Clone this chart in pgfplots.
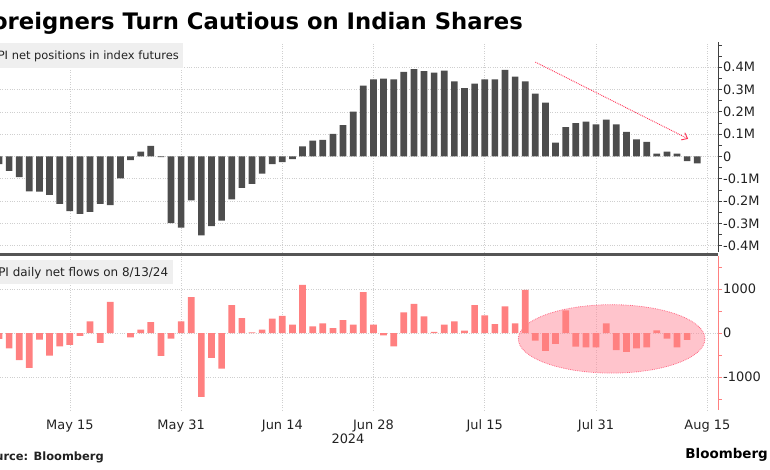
\documentclass[border=0pt]{standalone}
\usepackage{pgfplots}
\pgfplotsset{compat=1.18}
\usepackage{pgfplotstable}
\usepackage{fontspec}
\setmainfont{DejaVu Sans}
\usetikzlibrary{arrows.meta}
\definecolor{bargray}{HTML}{4D4D4D}
\definecolor{barpink}{HTML}{FF8080}
\definecolor{ellpink}{HTML}{FF8A9A}
\definecolor{ellborder}{HTML}{FF6A85}
\definecolor{arrowred}{HTML}{FF3355}
\definecolor{gridgray}{HTML}{CFCFCF}
\definecolor{boxgray}{HTML}{EFEFEF}
\definecolor{sepgray}{HTML}{555555}
\definecolor{txt}{HTML}{222222}

% FPI net positions in index futures (million), trading-day index
\pgfplotstableread{
x y
0 -0.034
1 -0.064
2 -0.092
3 -0.156
4 -0.158
5 -0.172
6 -0.212
7 -0.245
8 -0.257
9 -0.248
10 -0.212
11 -0.218
12 -0.098
13 -0.016
14 0.022
15 0.048
16 -0.003
17 -0.299
18 -0.319
19 -0.197
20 -0.353
21 -0.312
22 -0.287
23 -0.192
24 -0.141
25 -0.123
26 -0.077
27 -0.034
28 -0.025
29 -0.012
30 0.045
31 0.071
32 0.074
33 0.101
34 0.141
35 0.201
36 0.318
37 0.345
38 0.349
39 0.346
40 0.379
41 0.391
42 0.383
43 0.376
44 0.385
45 0.336
46 0.306
47 0.327
48 0.345
49 0.345
50 0.388
51 0.358
52 0.337
53 0.282
54 0.241
55 0.062
56 0.132
57 0.150
58 0.156
59 0.144
60 0.165
61 0.144
62 0.110
63 0.077
64 0.065
65 0.013
66 0.022
67 0.013
68 -0.021
69 -0.031
}\futures

% FPI daily net flows
\pgfplotstableread{
x y
0 -136
1 -347
2 -619
3 -792
4 -151
5 -513
6 -302
7 -272
8 -68
9 264
10 -226
11 709
13 -98
14 75
15 249
16 -521
17 -128
18 264
19 815
20 -1449
21 -566
22 -808
23 634
24 340
25 15
26 75
27 325
28 392
29 189
30 1094
31 151
32 219
33 113
34 294
35 189
36 928
37 189
38 -53
39 -302
40 468
41 664
42 377
43 23
44 189
45 264
46 53
47 634
48 400
49 204
50 604
51 219
52 981
53 -174
54 -408
55 -249
56 513
57 -309
58 -325
59 -325
60 219
61 -392
62 -430
63 -347
64 -325
65 60
66 -128
67 -325
68 -158
}\flows

\begin{document}
\begin{tikzpicture}
\useasboundingbox (0bp,0bp) rectangle (770bp,470bp);
\pgfplotsset{
  panel/.style={
    scale only axis, width=718bp, anchor=south west,
    xmin=0.1, xmax=71.05,
    axis y line*=right, axis x line*=bottom,
    x axis line style={draw=none},
    xtick={7,18,28,37,48,59,70},
    xtick style={draw=none},
    xmajorgrids, ymajorgrids,
    grid style={gridgray, dotted, line width=0.6bp},
    tick align=outside,
    major tick length=4bp, minor tick length=3.5bp,
    scaled y ticks=false,
    yticklabel style={anchor=west, inner sep=0pt, xshift=1bp,
      font=\fontsize{13}{15}\selectfont, text=txt},
    ybar, bar width=6.7bp, bar shift=0pt,
  }
}
\begin{axis}[panel, at={(0bp,218bp)}, height=210bp,
  ymin=-0.428, ymax=0.513,
  ytick={-0.4,-0.3,-0.2,-0.1,0,0.1,0.2,0.3,0.4},
  yticklabels={-0.4M,-0.3M,-0.2M,-0.1M,0,0.1M,0.2M,0.3M,0.4M},
  minor ytick={-0.35,-0.25,-0.15,-0.05,0.05,0.15,0.25,0.35,0.45,0.5},
  xticklabels={{},{},{},{},{},{},{}},
  y axis line style={black!75, line width=0.8bp},
  ytick style={black!75, line width=0.8bp}]
\addplot[fill=bargray, draw=none] table {\futures};
\draw[arrowred, densely dotted, line width=0.9bp,
  -{Straight Barb[length=5bp,width=8bp]}]
  (axis cs:53.0,0.423) -- (axis cs:68.1,0.079);
\end{axis}

\begin{axis}[panel, at={(0bp,60bp)}, height=154bp,
  ymin=-1750, ymax=1750,
  ytick={-1000,0,1000},
  yticklabels={-1000,0,1000},
  minor ytick={-1500,-500,500,1500},
  xticklabels={May 15,May 31,Jun 14,Jun 28,Jul 15,Jul 31,Aug 15},
  xticklabel style={anchor=base, yshift=-15.7bp,
    font=\fontsize{13}{15}\selectfont, text=txt},
  y axis line style={barpink, line width=0.8bp},
  ytick style={barpink, line width=0.8bp}]
\draw[ellborder, densely dotted, line width=0.8bp, fill=ellpink, fill opacity=0.5]
  (axis cs:60.54,-134) ellipse [x radius=93.3bp, y radius=34.2bp];
\addplot[fill=barpink, draw=none] table {\flows};
\end{axis}

% separator between panels
\draw[sepgray, line width=2.5bp] (0bp,215.5bp) -- (718bp,215.5bp);

% panel labels
\fill[boxgray] (-5bp,402bp) rectangle (183bp,427bp);
\node[anchor=base east, inner sep=0pt, font=\fontsize{11.5}{13}\selectfont, text=txt]
  at (179bp,410.5bp) {FPI net positions in index futures};
\fill[boxgray] (-5bp,186bp) rectangle (173bp,210bp);
\node[anchor=base east, inner sep=0pt, font=\fontsize{12}{14}\selectfont, text=txt]
  at (168.3bp,193.3bp) {FPI daily net flows on 8/13/24};

% title
\node[anchor=base east, inner sep=0pt, font=\fontsize{22.8}{26}\selectfont\bfseries, text=black]
  at (523bp,440bp) {Foreigners Turn Cautious on Indian Shares};

% year
\node[anchor=base, inner sep=0pt, font=\fontsize{13}{15}\selectfont, text=txt]
  at (348bp,26.7bp) {2024};

% source and logo
\node[anchor=base east, inner sep=0pt, font=\fontsize{11.5}{13}\selectfont\bfseries, text=txt]
  at (104bp,10bp) {Source: Bloomberg};
\node[anchor=base east, inner sep=0pt, font=\fontsize{13.5}{15}\selectfont\bfseries, text=black]
  at (768bp,12bp) {Bloomberg};
\end{tikzpicture}
\end{document}
